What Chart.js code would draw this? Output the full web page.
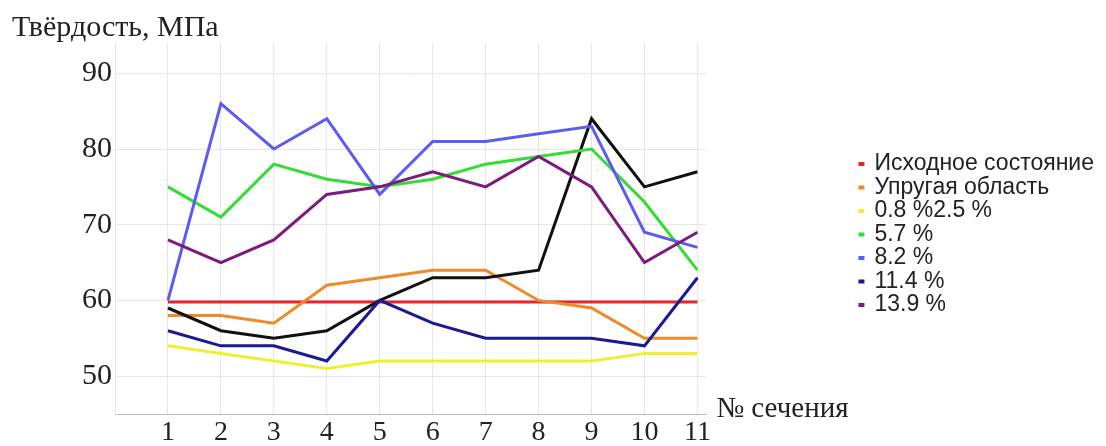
<!DOCTYPE html>
<html lang="ru">
<head>
<meta charset="utf-8">
<title>Твёрдость по сечениям</title>
<script src="https://cdn.jsdelivr.net/npm/chart.js@4/dist/chart.umd.min.js"></script>
<style>
  html, body { margin: 0; padding: 0; background: #fff; }
  #wrap { width: 1106px; height: 446px; }
</style>
</head>
<body>
<div id="wrap"><canvas id="hardness" width="1106" height="446"></canvas></div>
<script>
// Sections and axis ticks
const sections = [1, 2, 3, 4, 5, 6, 7, 8, 9, 10, 11];
const yTicks = [50, 60, 70, 80, 90];

// Hardness, MPa, per section
const initial = [59.8, 59.8, 59.8, 59.8, 59.8, 59.8, 59.8, 59.8, 59.8, 59.8, 59.8];
const elastic = [58, 58, 57, 62, 63, 64, 64, 60, 59, 55, 55];
const strain08 = [54, 53, 52, 51, 52, 52, 52, 52, 52, 53, 53];
const strain25 = [59, 56, 55, 56, 60, 63, 63, 64, 84, 75, 77];
const strain57 = [75, 71, 78, 76, 75, 76, 78, 79, 80, 73, 64];
const strain82 = [60, 86, 80, 84, 74, 81, 81, 82, 83, 69, 67];
const strain114 = [56, 54, 54, 52, 60, 57, 55, 55, 55, 54, 63];
const strain139 = [68, 65, 68, 74, 75, 77, 75, 79, 75, 65, 69];

const series = [
  { label: "Исходное состояние", values: initial, color: "#e8262a" },
  { label: "Упругая область", values: elastic, color: "#ef8a2c" },
  { label: "0.8 %2.5 %", values: strain08, color: "#f0f032" },
  { label: "2.5 %", values: strain25, color: "#111111" },
  { label: "5.7 %", values: strain57, color: "#33dd33" },
  { label: "8.2 %", values: strain82, color: "#5c5cf0" },
  { label: "11.4 %", values: strain114, color: "#1a1a96" },
  { label: "13.9 %", values: strain139, color: "#7d1a7d" }
];

const serif = "'Liberation Serif', 'Times New Roman', serif";
const sans = "'Liberation Sans', Arial, sans-serif";

// "№ сечения" next to the end of the x axis
const axisNote = {
  id: "axisNote",
  afterDraw(chart) {
    const { ctx, chartArea } = chart;
    ctx.save();
    ctx.font = "29px " + serif;
    ctx.fillStyle = "#222";
    ctx.textBaseline = "middle";
    ctx.fillText("№ сечения", chartArea.right + 10, chartArea.bottom - 5);
    ctx.restore();
  }
};

const ctx = document.getElementById("hardness").getContext("2d");

new Chart(ctx, {
  type: "line",
  data: {
    datasets: series.map((s, i) => ({
      label: s.label,
      data: s.values.map((v, j) => ({ x: sections[j], y: v })),
      borderColor: s.color,
      backgroundColor: s.color,
      borderWidth: 3,
      pointRadius: 0,
      tension: 0,
      order: series.length - i
    }))
  },
  options: {
    responsive: false,
    animation: false,
    events: [],
    layout: { padding: { left: 12, right: 2, top: 0, bottom: 0 } },
    scales: {
      x: {
        type: "linear",
        min: 0,
        max: 11.17,
        afterBuildTicks: (scale) => {
          scale.ticks = [0, ...sections, 11.17].map((v) => ({ value: v }));
        },
        afterFit: (scale) => { scale.height = 32; },
        ticks: {
          padding: 2,
          color: "#222",
          font: { family: serif, size: 28 },
          maxRotation: 0,
          autoSkip: false,
          callback: (v) => (sections.includes(v) ? String(v) : "")
        },
        grid: {
          drawTicks: false,
          color: (c) => (c.tick && c.tick.value > 11 ? "rgba(0,0,0,0)" : "#e6e6e6")
        },
        border: { color: "#bdbdbd", width: 1 }
      },
      y: {
        min: 45,
        max: 94,
        afterBuildTicks: (scale) => {
          scale.ticks = [45, ...yTicks, 94].map((v) => ({ value: v }));
        },
        afterFit: (scale) => { scale.width = 103; },
        ticks: {
          padding: 3,
          color: "#222",
          font: { family: serif, size: 30 },
          callback: (v) => (yTicks.includes(v) ? String(v) : "")
        },
        grid: {
          drawTicks: false,
          color: (c) => (c.tick && c.tick.value === 94 ? "rgba(0,0,0,0)" : "#e6e6e6")
        },
        border: { color: "#e6e6e6" }
      },
      // empty space between the plot and the legend
      gap: {
        position: "right",
        display: true,
        afterFit: (scale) => { scale.width = 152; },
        ticks: { display: false },
        grid: { display: false },
        border: { display: false }
      }
    },
    plugins: {
      title: {
        display: true,
        text: "Твёрдость, МПа",
        align: "start",
        color: "#222",
        font: { family: serif, size: 30, weight: "normal", lineHeight: 1 },
        padding: { top: 13, bottom: 0 }
      },
      legend: {
        position: "right",
        align: "start",
        maxWidth: 320,
        title: {
          display: true,
          text: "",
          font: { size: 10, lineHeight: 1 },
          padding: { top: 142, bottom: 0 }
        },
        labels: {
          boxWidth: 4,
          boxHeight: 1,
          padding: 0.5,
          color: "#222",
          font: { family: sans, size: 23, lineHeight: 1 },
          filter: (item) => item.datasetIndex !== 3,
          sort: (a, b) => a.datasetIndex - b.datasetIndex
        }
      },
      tooltip: { enabled: false }
    }
  },
  plugins: [axisNote]
});
</script>
</body>
</html>
